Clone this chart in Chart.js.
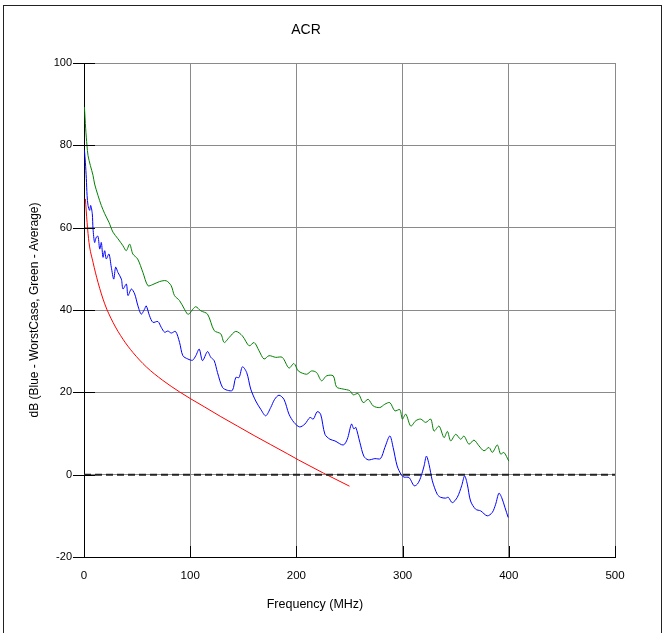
<!DOCTYPE html>
<html>
<head>
<meta charset="utf-8">
<script src="https://cdn.jsdelivr.net/npm/chart.js@4/dist/chart.umd.min.js"></script>
<style>
  html, body { margin: 0; padding: 0; background: #fff; }
  #wrap { position: relative; width: 665px; height: 633px; overflow: hidden; }
  #frame { position: absolute; left: 3px; top: 5px; width: 659px; height: 640px; border: 1px solid #222; box-sizing: border-box; pointer-events: none; }
  canvas { position: absolute; left: 0; top: 0; }
</style>
</head>
<body>
<div id="wrap">
  <canvas id="c" width="665" height="633"></canvas>
  <div id="frame"></div>
</div>
<script>
// ---- Data ----
const chartTitle = "ACR";
const xTitle = "Frequency (MHz)";
const yTitle = "dB (Blue - WorstCase, Green - Average)";
const xTicks = [0, 100, 200, 300, 400, 500];
const yTicks = [-20, 0, 20, 40, 60, 80, 100];

const greenFreq = [0.4,1.6,2.8,3.8,6,8.5,10,13.2,16.3,19.5,23.5,27.3,32,36.7,39.8,43,46,50.5,55.5,60.2,64.9,71.1,77.4,82.1,85.2,89.9,94.6,97.5,99.3,102.5,105.3,110,116.3,122.6,128.8,132,136.6,142.9,149.2,155.5,160.2,164.8,169.5,174.2,180.5,186.7,193,197.7,201.8,209.6,214.3,219,223.7,228.4,234.7,237.8,244,250.3,253.5,258.2,262.9,267.6,272.3,278.5,283.2,288,292.7,297.4,299.8,303,307.7,312.4,317,321.8,326.5,329.6,334.3,339,342.2,345.3,350,354.7,357.8,362.5,367.2,371.9,376.6,381.3,384.5,389.2,392.3,395.4,400];
const greenDb   = [89.3,84,80,77.5,75.1,72.7,70.6,67.8,65.4,63.4,61.3,58.9,57.3,55.6,54.4,56,53.6,52.4,49.1,45.9,46.2,46.9,47.1,45.9,43.5,42.3,40.2,39,39.1,40.2,40.8,39.8,39,35,34.2,32.1,33.3,34.8,33.7,31.3,32.1,30.1,28.1,28.9,28.5,28.5,25.9,27,25.2,24.4,25.2,24.8,22.8,24,24,21.3,20.8,20.4,19.4,19.7,17.5,18.3,16.7,16.3,17.1,17.5,15.5,15.8,13.5,14.7,11.8,13.1,13.5,12.7,13.5,10.6,11.8,9,10.5,8.2,9.8,8.6,9.4,7.4,8.4,7,5.8,6.6,5.4,7.2,5,5.4,3.3];

const blueFreq = [0.4,1.3,2.2,2.9,3.8,5.3,6.3,7.8,8.5,10,11.6,13.2,14.8,16.3,17.9,19.5,21,23.5,25.7,28,29.8,32,35.2,36.7,39.9,41.4,44.6,47.7,50.8,53.9,57,58.6,61.7,64.9,69.6,72.7,75.9,79,82.2,86.2,90,93.1,97.8,102.2,105.3,108.5,111.6,116.3,119.4,122.6,125.7,130.4,135,139.8,142.9,146,149.2,153.2,157,161.7,166.4,171.1,175.8,179.5,183.6,188.3,193,197.7,203,208,212.8,215.9,219.6,222.8,226.9,231.6,236.3,244.1,247.9,251.9,254.1,255.9,259.8,263.5,267.6,273.9,279.2,283.3,288,291.1,294.9,298.9,301.4,306.1,310.8,313.9,317,320.2,322.4,324.9,328,332.7,335.8,340.5,343,346.8,351.5,355.6,358.4,360.9,364,368.8,373.5,379.7,384.4,387.6,390.7,393.2,396.3,399.4];
const blueDb   = [78.8,75.9,71.9,67.8,65.4,64.2,65.4,63.4,59.7,56.4,57.7,57.9,54.8,56.4,52.8,54.4,52.4,53.6,50.4,47.5,50.4,49.1,47.5,45.1,46.3,43.5,45.1,43.9,41,39,40.2,41,38.6,37,37.2,35.8,34.6,34.9,34.4,34.8,32.1,28.9,28.1,27.8,28.9,30.5,27.7,29.9,28.5,27.7,24.8,21.2,20.5,20.5,23.6,23.6,26.2,24.8,20.8,17.9,15.9,14.3,16.3,18.3,19.3,18.3,14.7,12.7,11.6,12.3,13.9,13.5,15.3,14.7,9.8,8.6,8.2,7.2,8.6,12.3,11.1,11.5,7.8,4.5,3.6,3.9,3.9,6.6,9.4,6.6,2.1,-0.1,-0.6,-0.7,-2.7,-2.3,-0.7,2.1,4.5,2.5,-1.5,-4.8,-5.5,-5.7,-5.5,-6.8,-5.5,-2.7,-0.3,-2.3,-6.4,-8.4,-8.8,-10,-9.2,-7.2,-4.5,-5.5,-7.9,-10.4];

const redFreq = [1.3,2.9,4.7,8.5,13.2,19.5,27.3,36.7,46,58.6,74.2,90,100,113.2,128.8,144.5,160.2,175.8,191.4,201.8,212.8,225.3,250];
const redDb   = [67,61.3,56.4,51.6,46.7,41.5,37,32.9,29.7,26.2,22.9,20.1,18.5,16.5,14.1,11.8,9.5,7.3,5.1,3.6,2.1,0.4,-2.8];

const zeroFreq = [0, 500];
const zeroDb = [0, 0];

const toPts = (xs, ys) => xs.map((x, i) => ({ x: x, y: ys[i] }));

const FONT = "'Liberation Sans', Arial, sans-serif";

const decorPlugin = {
  id: 'decor',
  afterDraw(chart) {
    const ctx = chart.ctx;
    const xs = chart.scales.x, ys = chart.scales.y;
    const a = chart.chartArea;
    ctx.save();
    ctx.strokeStyle = '#000';
    ctx.lineWidth = 1;
    ctx.beginPath();
    yTicks.forEach(v => {
      const y = Math.round(ys.getPixelForValue(v)) + 0.5;
      ctx.moveTo(a.left - 11, y);
      ctx.lineTo(a.left + 11, y);
    });
    xTicks.forEach(v => {
      if (v === 0) return;
      const x = Math.round(xs.getPixelForValue(v)) + 0.5;
      ctx.moveTo(x, a.bottom);
      ctx.lineTo(x, a.bottom - 11);
    });
    ctx.stroke();
    ctx.fillStyle = '#000';
    ctx.textAlign = 'center';
    ctx.textBaseline = 'middle';
    ctx.font = '14px ' + FONT;
    ctx.fillText(chartTitle, 306, 30);
    ctx.font = '12.5px ' + FONT;
    ctx.fillText(xTitle, 315, 605);
    ctx.translate(35, (a.top + a.bottom) / 2);
    ctx.rotate(-Math.PI / 2);
    ctx.font = '12px ' + FONT;
    ctx.fillText(yTitle, 0, 0);
    ctx.restore();
  }
};

new Chart(document.getElementById('c'), {
  type: 'scatter',
  data: {
    datasets: [
      { label: 'Zero', data: toPts(zeroFreq, zeroDb), showLine: true, borderColor: '#222', borderWidth: 2, borderDash: [7, 4], pointRadius: 0, order: 1 },
      { label: 'Limit', data: toPts(redFreq, redDb), showLine: true, borderColor: '#ff0000', borderWidth: 1, pointRadius: 0, tension: 0.4, cubicInterpolationMode: 'monotone', order: 2 },
      { label: 'Average', data: toPts(greenFreq, greenDb), showLine: true, borderColor: '#008000', borderWidth: 1, pointRadius: 0, tension: 0.3, order: 3 },
      { label: 'WorstCase', data: toPts(blueFreq, blueDb), showLine: true, borderColor: '#0000ff', borderWidth: 1, pointRadius: 0, tension: 0.3, order: 4 }
    ]
  },
  options: {
    responsive: false,
    animation: false,
    devicePixelRatio: 1,
    layout: { padding: { top: 63, right: 50, left: 0, bottom: 0 } },
    plugins: { legend: { display: false }, title: { display: false }, tooltip: { enabled: false } },
    scales: {
      x: {
        type: 'linear', min: 0, max: 500,
        afterFit: s => { s.height = 76; },
        afterBuildTicks: s => { s.ticks = xTicks.map(v => ({ value: v })); },
        ticks: { color: '#000', font: { family: FONT, size: 11.5 }, padding: 12, maxRotation: 0 },
        grid: { color: '#8a8a8a', lineWidth: 1, drawTicks: false },
        border: { color: '#000', width: 1 }
      },
      y: {
        type: 'linear', min: -20, max: 100,
        afterFit: s => { s.width = 84; },
        afterBuildTicks: s => { s.ticks = yTicks.map(v => ({ value: v })); },
        ticks: { color: '#000', font: { family: FONT, size: 11 }, padding: 12 },
        grid: { color: '#8a8a8a', lineWidth: 1, drawTicks: false },
        border: { color: '#000', width: 1 }
      }
    }
  },
  plugins: [decorPlugin]
});
</script>
</body>
</html>
